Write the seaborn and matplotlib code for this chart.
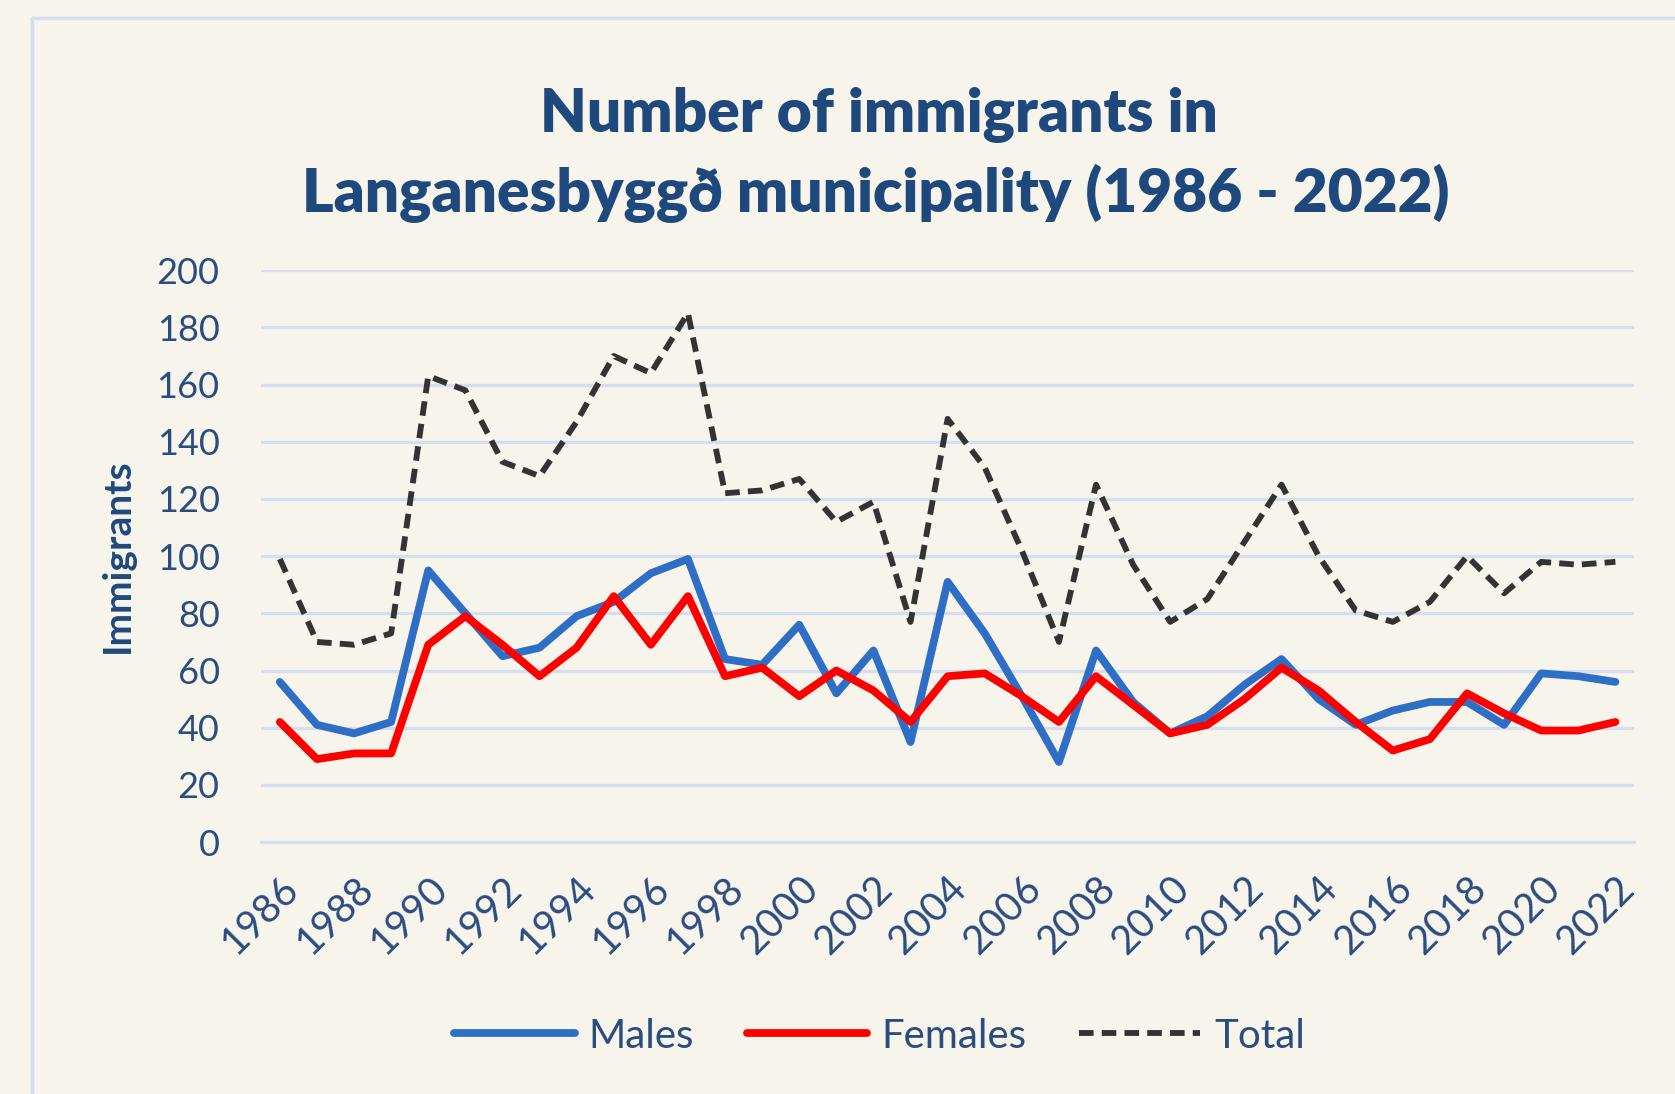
import numpy as np
import pandas as pd
import matplotlib
matplotlib.use('Agg')
import matplotlib.pyplot as plt
from matplotlib.lines import Line2D
import seaborn as sns

# Data
years = list(range(1986, 2023))
males = [56, 41, 38, 42, 95, 80, 65, 68, 79, 84, 94, 99, 64, 62, 76, 52, 67, 35, 91, 73,
         51, 28, 67, 49, 38, 44, 55, 64, 50, 41, 46, 49, 49, 41, 59, 58, 56]
females = [42, 29, 31, 31, 69, 79, 69, 58, 68, 86, 69, 86, 58, 61, 51, 60, 53, 42, 58, 59,
           51, 42, 58, 48, 38, 41, 50, 61, 53, 42, 32, 36, 52, 45, 39, 39, 42]
total = [99, 70, 69, 73, 163, 158, 133, 128, 147, 170, 164, 185, 122, 123, 127, 112, 119, 77,
         148, 131, 102, 70, 125, 97, 77, 85, 105, 125, 100, 81, 77, 84, 100, 87, 98, 97, 98]
label_years = list(range(1986, 2023, 2))

BG = '#F7F4EC'
NAVY = '#1F497D'
TICK = '#2B4C7E'
GRID = '#D5DEF0'
BLUE = '#2E6FC5'
RED = '#FF0000'
DARK = '#333333'
LW = 5.6
LW_DASH = 4.2
DASH = (2.5, 1.4)

sns.set_theme(style='white')
plt.rcParams['font.family'] = ['Lato', 'DejaVu Sans']

df = pd.DataFrame({'year': years, 'Males': males, 'Females': females, 'Total': total})

fig = plt.figure(figsize=(16.75, 10.94), dpi=100, facecolor=BG)
ax = fig.add_axes([0.156, 0.2303, 0.8195, 0.5227])
ax.set_facecolor(BG)

sns.lineplot(data=df, x='year', y='Males', ax=ax, color=BLUE, label='Males')
sns.lineplot(data=df, x='year', y='Females', ax=ax, color=RED, label='Females')
sns.lineplot(data=df, x='year', y='Total', ax=ax, color=DARK, label='Total')
for ln in ax.lines[:2]:
    ln.set_linewidth(LW)
    ln.set_solid_capstyle('round')
    ln.set_solid_joinstyle('round')
ax.lines[2].set_linewidth(LW_DASH)
ax.lines[2].set_dashes(DASH)

ax.set_xlim(1985.5, 2022.5)
ax.set_ylim(0, 200)
ax.set_yticks(range(0, 201, 20))
ax.yaxis.grid(True, color=GRID, linewidth=2.3)
ax.set_axisbelow(True)
for s in ['top', 'right', 'left']:
    ax.spines[s].set_visible(False)
ax.spines['bottom'].set_color(GRID)
ax.spines['bottom'].set_linewidth(2.3)

ax.set_xticks(label_years)
ax.set_xticklabels([str(y) for y in label_years], rotation=45, ha='right', va='top',
                   rotation_mode='anchor')
ax.set_xticks(np.arange(1985.5, 2023, 1), minor=True)
ax.tick_params(axis='x', which='major', length=0, pad=20, labelsize=28.5, labelcolor=TICK)
ax.tick_params(axis='x', which='minor', length=7, width=1.2, color=GRID, direction='out')
ax.tick_params(axis='y', length=0, pad=30, labelsize=26, labelcolor=TICK)

ax.set_xlabel('')
ax.set_ylabel('Immigrants', fontsize=28, fontweight='bold', color=NAVY)
ax.yaxis.set_label_coords(-0.092, 0.5)

fig.text(0.525, 0.896, 'Number of immigrants in', ha='center', va='center',
         fontsize=43.5, fontweight='heavy', color=NAVY)
fig.text(0.523, 0.823, 'Langanesbyggð municipality (1986 - 2022)', ha='center', va='center',
         fontsize=43.5, fontweight='heavy', color=NAVY)

ax.get_legend().remove()
handles = [Line2D([], [], color=BLUE, linewidth=LW, solid_capstyle='round'),
           Line2D([], [], color=RED, linewidth=LW, solid_capstyle='round'),
           Line2D([], [], color=DARK, linewidth=LW_DASH, dashes=DASH)]
leg = fig.legend(handles, ['Males', 'Females', 'Total'], loc='center', ncol=3,
                 bbox_to_anchor=(0.525, 0.053), frameon=False, fontsize=29,
                 handlelength=3.0, handletextpad=0.35, columnspacing=1.3)
for t in leg.get_texts():
    t.set_color(TICK)

# light blue chart border
fig.add_artist(Line2D([0.019, 1.0], [0.984, 0.984], color='#D3DEF1', linewidth=2.5,
                      transform=fig.transFigure))
fig.add_artist(Line2D([0.019, 0.019], [0.0, 0.984], color='#D3DEF1', linewidth=2.5,
                      transform=fig.transFigure))

fig.savefig('out.png', dpi=100, facecolor=BG)
